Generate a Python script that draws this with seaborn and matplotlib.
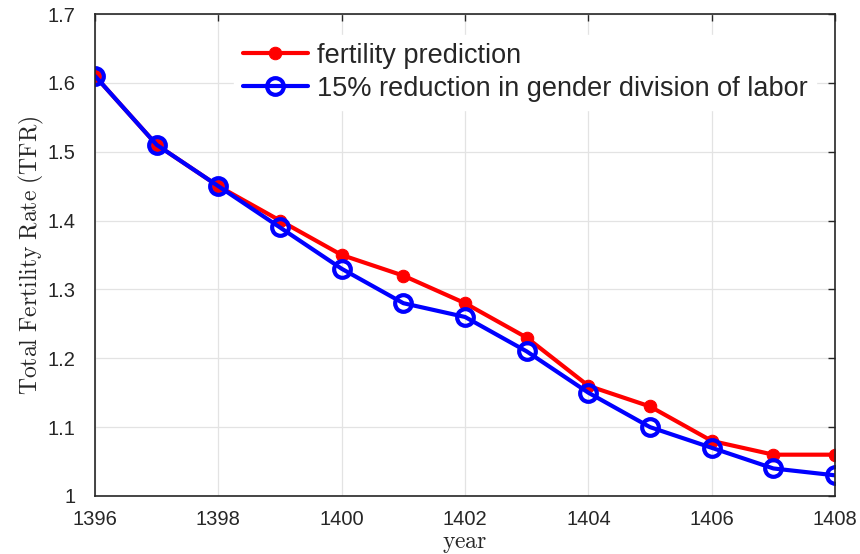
import numpy as np
import pandas as pd
import seaborn as sns
import matplotlib.pyplot as plt

# datos
years = [1396, 1397, 1398, 1399, 1400, 1401, 1402, 1403, 1404, 1405, 1406, 1407, 1408]
tfr_pred = [1.61, 1.51, 1.45, 1.40, 1.35, 1.32, 1.28, 1.23, 1.16, 1.13, 1.08, 1.06, 1.06]
tfr_reduc = [1.61, 1.51, 1.45, 1.39, 1.33, 1.28, 1.26, 1.21, 1.15, 1.10, 1.07, 1.04, 1.03]
series_names = ["fertility prediction", "15% reduction in gender division of labor"]

df = pd.DataFrame({
    "year": years * 2,
    "tfr": tfr_pred + tfr_reduc,
    "serie": [series_names[0]] * len(years) + [series_names[1]] * len(years),
})

sns.set_style("white")
plt.rcParams["font.family"] = ["Liberation Sans", "DejaVu Sans"]
plt.rcParams["mathtext.fontset"] = "cm"

fig = plt.figure(figsize=(8.6, 5.54), dpi=100)
ax = fig.add_axes([0.1105, 0.1047, 0.8605, 0.870])

# linea roja con puntos rellenos
sns.lineplot(data=df[df["serie"] == series_names[0]], x="year", y="tfr",
             color="#ff0000", lw=3, marker="o", markersize=9,
             markeredgecolor="#ff0000", label=series_names[0], ax=ax)
# linea azul con circulos vacios
sns.lineplot(data=df[df["serie"] == series_names[1]], x="year", y="tfr",
             color="#0000ff", lw=3, marker="o", markersize=12,
             markerfacecolor="none", markeredgecolor="#0000ff",
             markeredgewidth=3, label=series_names[1], ax=ax)

ax.set_xlim(1396, 1408)
ax.set_ylim(1.0, 1.7)
ax.set_xticks(np.arange(1396, 1409, 2))
ax.set_yticks(np.arange(1.0, 1.71, 0.1))
ax.set_yticklabels(["1", "1.1", "1.2", "1.3", "1.4", "1.5", "1.6", "1.7"])
ax.grid(True, color="#e3e3e3", lw=0.9)
ax.tick_params(direction="in", length=5, width=1, labelsize=14.5, colors="#262626",
               top=True, right=True, labeltop=False, labelright=False, pad=14)
ax.tick_params(axis="x", pad=10)
for s in ax.spines.values():
    s.set_color("#262626")
    s.set_linewidth(1.2)

ax.set_xlabel(r"$\mathrm{year}$", fontsize=17, color="#262626", labelpad=3)
ax.set_ylabel(r"$\mathrm{Total\ Fertility\ Rate\ (TFR)}$", fontsize=17,
              color="#262626")
ax.yaxis.set_label_coords(-0.066, 0.5)

leg = ax.legend(loc="upper left", bbox_to_anchor=(0.17, 0.985), frameon=True,
                fontsize=19.5, handlelength=2.4, handletextpad=0.35,
                labelspacing=0.26, borderpad=0.3)
leg.get_frame().set_edgecolor("white")
leg.get_frame().set_facecolor("white")
leg.get_frame().set_alpha(1)

fig.savefig("out.png", dpi=100)
